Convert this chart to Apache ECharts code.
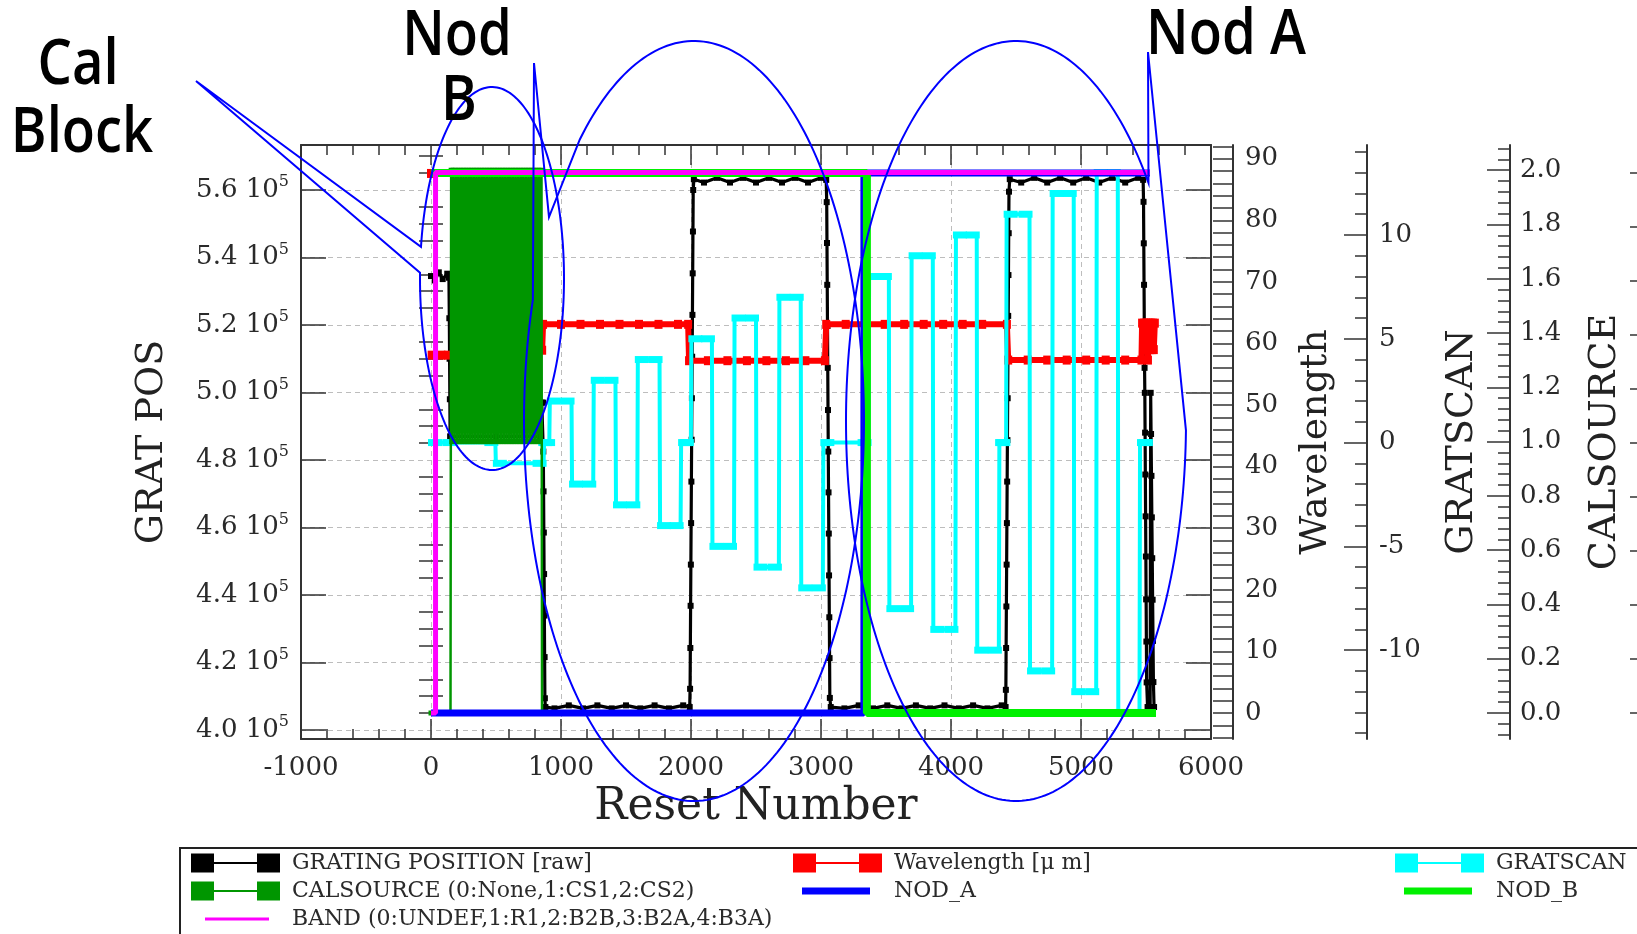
<!DOCTYPE html>
<html>
<head>
<meta charset="utf-8">
<title>Grating position, wavelength and nod state vs reset number</title>
<script src="https://cdn.jsdelivr.net/npm/echarts@6/dist/echarts.min.js"></script>
<style>
  html, body { margin: 0; padding: 0; background: #ffffff; }
  #chart { width: 1637px; height: 934px; }
</style>
</head>
<body>
<div id="chart"></div>
<script>
// ---------------- data ----------------
// Reset-number range of the shared x axis
const resetRange = [-1000, 6000];

// Axis ranges and tick values
const gratExtent = [397330, 573330];
const gratTicks = [400000, 420000, 440000, 460000, 480000, 500000, 520000, 540000, 560000];
const waveExtent = [-4.22, 92.22];
const waveTicks = [0, 10, 20, 30, 40, 50, 60, 70, 80, 90];
const scanExtent = [-14.28, 14.335];
const scanTicks = [-10, -5, 0, 5, 10];
const calExtent = [-0.0958, 2.093];
const calTicks = [0, 0.2, 0.4, 0.6, 0.8, 1.0, 1.2, 1.4, 1.6, 1.8, 2.0];
const nodExtent = [-0.04815, 1.05185];
const nodTicks = [0, 0.1, 0.2, 0.3, 0.4, 0.5, 0.6, 0.7, 0.8, 0.9, 1.0];
const bandExtent = [-0.0962, 2.1018];

// GRATING POSITION [raw]: [reset, position]
const gratingPosition = [
  [0, 534500], [30, 533200], [60, 535600], [90, 533600], [125, 535200], [138, 534000],
  [141, 522000], [143, 510000], [145, 498000], [147, 487000],
  [500, 487000], [845, 487000], [852, 497000],
  [862, 497000], [864, 482500], [866, 470700], [868, 458500], [870, 446200], [872, 433900], [874, 421600], [876, 409400], [880, 406800],
  [950, 406400], [1060, 407300], [1170, 406400], [1280, 407300], [1390, 406400], [1500, 407300], [1610, 406400], [1720, 407300], [1830, 406400], [1940, 407300], [1990, 406800],
  [1993, 412200], [1995, 424300], [1997, 436800], [1999, 449000], [2001, 461300], [2003, 473600], [2005, 486000], [2007, 498300], [2009, 510600], [2011, 523000], [2013, 535300], [2015, 547700], [2017, 560000], [2022, 563200],
  [2100, 562200], [2200, 563600], [2300, 562200], [2400, 563600], [2500, 562200], [2600, 563600], [2700, 562200], [2800, 563600], [2900, 562200], [3000, 563600], [3040, 563000],
  [3044, 556400], [3046, 544300], [3048, 531900], [3050, 519700], [3052, 507300], [3054, 494800], [3056, 482500], [3058, 470400], [3060, 458200], [3062, 445800], [3064, 433400], [3066, 421300], [3068, 409500], [3075, 406800],
  [3180, 406400], [3290, 407300], [3400, 406400], [3510, 407300], [3620, 406400], [3730, 407300], [3840, 406400], [3950, 407300], [4060, 406400], [4170, 407300], [4280, 406400], [4390, 407300], [4420, 406800],
  [4422, 411900], [4424, 424300], [4426, 436600], [4428, 449000], [4430, 461300], [4432, 473600], [4434, 485900], [4436, 498300], [4438, 510500], [4440, 522700], [4442, 534800], [4444, 547200], [4446, 559500], [4452, 563200],
  [4540, 562200], [4640, 563600], [4740, 562200], [4840, 563600], [4940, 562200], [5040, 563600], [5140, 562200], [5240, 563600], [5340, 562200], [5440, 563600], [5478, 563000],
  [5481, 556500], [5483, 544200], [5485, 531900], [5487, 519500], [5489, 507300], [5491, 499900], [5493, 488100], [5495, 475700], [5497, 463300], [5499, 451400], [5501, 438700], [5503, 426200], [5505, 414100], [5512, 406800],
  [5532, 406800], [5536, 499900], [5539, 487700], [5542, 475300], [5545, 463000], [5548, 450900], [5551, 438600], [5554, 426400], [5557, 414200], [5562, 406800]
];

// Wavelength [um]; the lone first reading is not joined to the rest
const wavelength = [
  [0, 87.6], [2, '-'], [5, 58.1], [80, 58.1], [130, 58.1], [400, 58.9], [700, 58.9], [855, 58.9],
  [862, 63.1], [1000, 63.1], [1150, 63.1], [1300, 63.1], [1450, 63.1], [1600, 63.1], [1750, 63.1], [1900, 63.1], [1978, 63.1],
  [1985, 57.2], [2130, 57.2], [2280, 57.2], [2430, 57.2], [2580, 57.2], [2730, 57.2], [2880, 57.2], [3030, 57.2],
  [3040, 63.1], [3190, 63.1], [3340, 63.1], [3490, 63.1], [3640, 63.1], [3790, 63.1], [3940, 63.1], [4090, 63.1], [4240, 63.1], [4430, 63.1],
  [4440, 57.3], [4590, 57.3], [4740, 57.3], [4890, 57.3], [5040, 57.3], [5190, 57.3], [5340, 57.3], [5465, 57.3],
  [5470, 63.3], [5478, 59.0], [5486, 63.3], [5494, 59.0], [5502, 63.3], [5510, 59.0], [5515, 57.3], [5520, 63.3],
  [5528, 59.0], [5536, 63.3], [5544, 59.0], [5552, 63.3], [5560, 59.0], [5568, 63.3]
];

// GRATSCAN step index
const gratScan = [
  [0, 0], [110, 0], [495, 0], [499, -1], [866, -1], [870, 0], [910, 0],
  [914, 2], [1081, 2], [1085, -2], [1248, -2], [1252, 3], [1419, 3], [1423, -3], [1587, -3],
  [1591, 4], [1758, 4], [1762, -4], [1920, -4], [1924, 0], [1999, 0],
  [2003, 5], [2161, 5], [2165, -5], [2331, -5], [2335, 6], [2500, 6], [2504, -6], [2676, -6],
  [2680, 7], [2844, 7], [2848, -7], [3014, -7], [3018, 0], [3366, 0],
  [3370, 8], [3522, 8], [3526, -8], [3693, -8], [3697, 9], [3860, 9], [3864, -9], [4034, -9],
  [4038, 10], [4198, 10], [4202, -10], [4368, -10], [4372, 0], [4424, 0],
  [4428, 11], [4604, 11], [4608, -11], [4778, -11], [4782, 12], [4944, 12], [4948, -12], [5117, -12],
  [5121, 13], [5283, 13], [5287, -13], [5450, -13], [5454, 0], [5530, 0]
];

// CALSOURCE (0:None, 1:CS1, 2:CS2): idle, then the CS1/CS2 calibration cycle, then idle
const calSourceLead = [[0, 0], [150, 0], [155, 2]];
const calCycleStart = 160;
const calCycleStep = 10;
const calSourceCycle = [
  1, 2, 1, 2, 1, 2, 1, 2, 1, 2, 1, 2, 1, 2, 1, 2, 1, 2, 1, 2,
  1, 2, 1, 2, 1, 2, 1, 2, 1, 2, 1, 2, 1, 2, 1, 2, 1, 2, 1, 2,
  1, 2, 1, 2, 1, 2, 1, 2, 1, 2, 1, 2, 1, 2, 1, 2, 1, 2, 1, 2,
  1, 2, 1, 2, 1, 2, 1, 2, 1, 2
];
const calSourceTail = [[854, 0], [5530, 0]];

// Nod flags and band
const nodA = [[0, 0], [3330, 0], [3330, 1], [5530, 1]];
const nodB = [[0, 1], [3353, 1], [3353, 0], [5577, 0]];
const band = [[0, 0], [35, 0], [35, 2], [5530, 2]];

// Series names as shown in the legend
const names = {
  grating: 'GRATING POSITION [raw]',
  wave: 'Wavelength [\u03bc m]',
  scan: 'GRATSCAN',
  cal: 'CALSOURCE (0:None,1:CS1,2:CS2)',
  nodA: 'NOD_A',
  nodB: 'NOD_B',
  band: 'BAND (0:UNDEF,1:R1,2:B2B,3:B2A,4:B3A)'
};

// ---------------- drawing ----------------
const SERIF = "'DejaVu Serif', 'Liberation Serif', serif";
const AX = '#333333';
const TXT = '#2a2a2a';

function minorValues(extent, step, majorStep) {
  const out = [];
  const k0 = Math.ceil(extent[0] / step - 1e-9);
  for (let k = k0; k * step <= extent[1] + 1e-9; k++) {
    const v = +(k * step).toFixed(6);
    const r = v / majorStep;
    if (Math.abs(r - Math.round(r)) > 1e-6) out.push(v);
  }
  return out;
}

const axisLineStyle = { color: AX, width: 2 };
const tickLineStyle = { color: AX, width: 1.5 };
const tickLabel = { fontFamily: SERIF, fontSize: 26, color: TXT };
const titleStyle = { fontFamily: SERIF, fontSize: 38, color: '#222' };

function yAxisBase(extent, position, offset) {
  return {
    type: 'value', min: extent[0], max: extent[1], position: position, offset: offset,
    axisLine: { show: false }, axisLabel: { show: false }, axisTick: { show: false },
    splitLine: { show: false }, minorTick: { show: false }, minorSplitLine: { show: false },
    silent: true
  };
}

function majorAxis(extent, position, offset, ticks, len, opts) {
  const a = yAxisBase(extent, position, offset);
  a.axisLine = { show: true, onZero: false, lineStyle: axisLineStyle };
  a.axisTick = { show: true, inside: true, length: len, customValues: ticks, lineStyle: tickLineStyle };
  return Object.assign(a, opts || {});
}

function minorAxis(extent, position, offset, values, len) {
  const a = yAxisBase(extent, position, offset);
  a.axisTick = { show: true, inside: true, length: len, customValues: values, lineStyle: tickLineStyle };
  return a;
}

const gratLabel = {
  show: true, customValues: gratTicks, margin: 12,
  formatter: v => '{m|' + (v / 1e5).toFixed(1) + ' 10}{s|5}',
  rich: {
    m: { fontFamily: SERIF, fontSize: 26, color: TXT, lineHeight: 32 },
    s: { fontFamily: SERIF, fontSize: 16, color: TXT, lineHeight: 16, verticalAlign: 'top' }
  }
};

const yAxes = [
  // 0: GRAT POS (left)
  majorAxis(gratExtent, 'left', 0, gratTicks, 25, {
    axisLabel: gratLabel,
    splitLine: { show: true, lineStyle: { color: '#bdbdbd', width: 1, type: [5, 4] } },
    name: 'GRAT POS', nameLocation: 'middle', nameRotate: 90, nameGap: 130, nameTextStyle: titleStyle
  }),
  // 1: GRAT POS minor ticks
  minorAxis(gratExtent, 'left', 0, minorValues(gratExtent, 5000, 20000), 12),
  // 2-3: mirrored GRAT POS ticks on the right frame edge
  majorAxis(gratExtent, 'right', 0, gratTicks, 25),
  minorAxis(gratExtent, 'right', 0, minorValues(gratExtent, 5000, 20000), 12),
  // 4-5: Wavelength
  majorAxis(waveExtent, 'right', 22, waveTicks, 20, {
    axisLabel: Object.assign({ show: true, customValues: waveTicks, margin: 12, formatter: v => String(v) }, tickLabel),
    name: 'Wavelength', nameLocation: 'middle', nameRotate: 90, nameGap: 64, nameTextStyle: titleStyle
  }),
  minorAxis(waveExtent, 'right', 22, minorValues(waveExtent, 2, 10), 20),
  // 6-7: GRATSCAN
  majorAxis(scanExtent, 'right', 156, scanTicks, 23, {
    axisLabel: Object.assign({ show: true, customValues: scanTicks, margin: 12, formatter: v => String(v) }, tickLabel),
    name: 'GRATSCAN', nameLocation: 'middle', nameRotate: 90, nameGap: 76, nameTextStyle: titleStyle
  }),
  minorAxis(scanExtent, 'right', 156, minorValues(scanExtent, 1, 5), 12),
  // 8-9: CALSOURCE
  majorAxis(calExtent, 'right', 299, calTicks, 23, {
    axisLabel: Object.assign({ show: true, customValues: calTicks, margin: 10, formatter: v => v.toFixed(1) }, tickLabel),
    name: 'CALSOURCE', nameLocation: 'middle', nameRotate: 90, nameGap: 76, nameTextStyle: titleStyle
  }),
  minorAxis(calExtent, 'right', 299, minorValues(calExtent, 0.04, 0.2), 12),
  // 10: NOD axis
  majorAxis(nodExtent, 'right', 442, nodTicks, 23),
  // 11: BAND axis (not drawn)
  yAxisBase(bandExtent, 'right', 0)
];

const xAxes = [
  {
    type: 'value', position: 'bottom', min: resetRange[0], max: resetRange[1], interval: 1000,
    axisLine: { show: true, onZero: false, lineStyle: axisLineStyle },
    axisTick: { show: true, inside: true, length: 20, lineStyle: tickLineStyle },
    minorTick: { show: true, splitNumber: 5, length: 10, lineStyle: tickLineStyle },
    axisLabel: Object.assign({ show: true, margin: 16, formatter: v => String(v) }, tickLabel),
    splitLine: { show: true, lineStyle: { color: '#bdbdbd', width: 1, type: [5, 4] } },
    name: 'Reset Number', nameLocation: 'middle', nameGap: 46,
    nameTextStyle: { fontFamily: SERIF, fontSize: 44, color: '#222' },
    silent: true
  },
  {
    type: 'value', position: 'top', min: resetRange[0], max: resetRange[1], interval: 1000,
    axisLine: { show: true, onZero: false, lineStyle: axisLineStyle },
    axisTick: { show: true, inside: true, length: 20, lineStyle: tickLineStyle },
    minorTick: { show: true, splitNumber: 5, length: 10, lineStyle: tickLineStyle },
    axisLabel: { show: false }, splitLine: { show: false },
    silent: true
  }
];

function lineSeries(name, data, yIdx, color, width, symbolSize, z) {
  return {
    name: name, type: 'line', data: data, xAxisIndex: 0, yAxisIndex: yIdx, z: z,
    color: color,
    lineStyle: { color: color, width: width },
    itemStyle: { color: color, borderWidth: 0 },
    symbol: symbolSize ? 'rect' : 'none',
    symbolSize: symbolSize || 0,
    showSymbol: !!symbolSize,
    connectNulls: false,
    emphasis: { disabled: true },
    silent: true, animation: false
  };
}

const calSourceData = calSourceLead.concat(
  calSourceCycle.map((v, i) => [calCycleStart + i * calCycleStep, v]),
  calSourceTail
);

// GRATSCAN markers are widened and pulled inward so each held step reads as one bar
const scanItems = gratScan.map((p, i) => {
  const prev = gratScan[i - 1], next = gratScan[i + 1];
  let off = 0;
  if (next && next[1] === p[1]) off = 4;
  else if (prev && prev[1] === p[1]) off = -4;
  return { value: p, symbolOffset: [off, 0] };
});

const series = [
  lineSeries(names.grating, gratingPosition, 0, '#000000', 3.2, 6, 2),
  lineSeries(names.wave, wavelength, 4, '#ff0000', 6, [8, 9], 3),
  lineSeries(names.scan, scanItems, 6, '#00ffff', 4, [14, 7], 4),
  lineSeries(names.cal, calSourceData, 8, '#009600', 2.5, 5, 5),
  lineSeries(names.nodA, nodA, 10, '#0000ff', 7, 0, 6),
  lineSeries(names.nodB, nodB, 10, '#00f000', 8, 0, 7),
  lineSeries(names.band, band, 11, '#ff00ff', 5, 0, 8)
];

// Legend icons: marker-line-marker, thick bar, thin line (bounding corners keep the insets)
const iconDumbbell = 'path://M0,0H23V19H0Z M66,0H89V19H66Z M23,8.5H66V10.5H23Z';
const iconBar = 'path://M0,0L0.01,0L0,0.01Z M89,19L88.99,19L89,18.99Z M9,6H77V13H9Z';
const iconLine = 'path://M0,0L0.01,0L0,0.01Z M89,19L88.99,19L89,18.99Z M14,8H78V11H14Z';

function legendColumn(left, items) {
  return {
    orient: 'vertical', left: left, top: 852, padding: 0,
    itemWidth: 89, itemHeight: 19, itemGap: 6, selectedMode: false,
    itemStyle: { borderWidth: 0 },
    textStyle: { fontFamily: SERIF, fontSize: 22, color: TXT, padding: [0, 0, 0, 7] },
    data: items
  };
}

const legends = [
  legendColumn(191, [
    { name: names.grating, icon: iconDumbbell },
    { name: names.cal, icon: iconDumbbell },
    { name: names.band, icon: iconLine }
  ]),
  legendColumn(793, [
    { name: names.wave, icon: iconDumbbell },
    { name: names.nodA, icon: iconBar }
  ]),
  legendColumn(1395, [
    { name: names.scan, icon: iconDumbbell },
    { name: names.nodB, icon: iconBar }
  ])
];

// Hand-drawn callouts marking the calibration block and the two nod positions
function arcPoints(cx, cy, rx, ry, a0, a1, n) {
  const pts = [];
  for (let i = 0; i <= n; i++) {
    const t = (a0 + (a1 - a0) * i / n) * Math.PI / 180;
    pts.push([cx + rx * Math.cos(t), cy + ry * Math.sin(t)]);
  }
  return pts;
}

const calloutStyle = { stroke: '#0000ff', lineWidth: 2, fill: null };
const nodBShape = [[534, 63], [549, 217]].concat(arcPoints(694, 421, 170, 380, -132.2, 198.6, 240), [[534, 63]]);
const nodAShape = [[1148, 52]].concat(arcPoints(1016, 421, 170, 380, 1.4, 321.2, 240), [[1148, 52]]);
const calShape = [[196, 81]].concat(arcPoints(492, 278.5, 72, 191.5, 189.5, 541.7, 200), [[196, 81]]);

function handText(txt, x, y) {
  return {
    type: 'text', x: x, y: y, scaleX: 0.85, z: 101, silent: true,
    style: {
      text: txt, fontFamily: "'Open Sans', 'Noto Sans', sans-serif", fontSize: 64, fontWeight: 600,
      fill: '#000', align: 'center', verticalAlign: 'middle'
    }
  };
}

const graphics = [
  { type: 'rect', z: 1, silent: true, shape: { x: 180, y: 848, width: 1600, height: 200 },
    style: { fill: null, stroke: '#222', lineWidth: 2 } },
  { type: 'polyline', z: 100, silent: true, shape: { points: nodBShape }, style: calloutStyle },
  { type: 'polyline', z: 100, silent: true, shape: { points: nodAShape }, style: calloutStyle },
  { type: 'polyline', z: 100, silent: true, shape: { points: calShape }, style: calloutStyle },
  handText('Cal', 78, 66),
  handText('Block', 82, 134),
  handText('Nod', 457, 37),
  handText('B', 459, 102),
  handText('Nod A', 1226, 36)
];

const chart = echarts.init(document.getElementById('chart'), null, { renderer: 'canvas' });
chart.setOption({
  animation: false,
  backgroundColor: '#ffffff',
  textStyle: { fontFamily: SERIF },
  grid: { left: 301, top: 145, width: 910, height: 594, containLabel: false },
  xAxis: xAxes,
  yAxis: yAxes,
  legend: legends,
  series: series,
  graphic: graphics
});
</script>
</body>
</html>
